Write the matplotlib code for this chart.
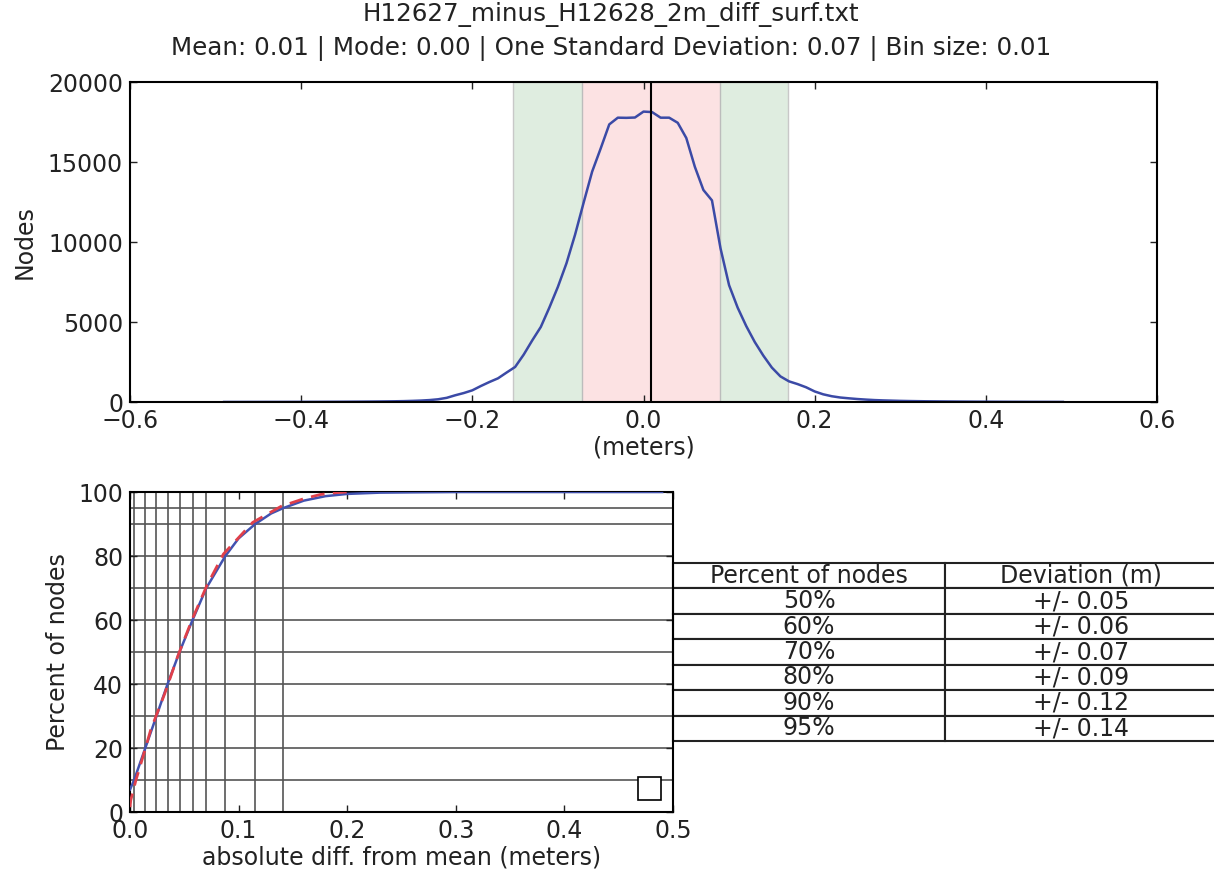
import numpy as np
import matplotlib
matplotlib.use('Agg')
import matplotlib.pyplot as plt

plt.rcParams['font.family'] = ['DejaVu Sans']
plt.rcParams['font.size'] = 17
plt.rcParams['text.color'] = '#222222'
plt.rcParams['axes.labelcolor'] = '#222222'
plt.rcParams['xtick.color'] = '#222222'
plt.rcParams['ytick.color'] = '#222222'
plt.rcParams['axes.linewidth'] = 1.5

file_name = 'H12627_minus_H12628_2m_diff_surf.txt'
mean_val = 0.0087
mode_val = 0.00
std_label = 0.07
bin_size = 0.01
# shaded bands (one and two std around the mean)
band1 = (-0.0715, 0.089)
band2 = (-0.152, 0.169)

# histogram counts per bin, bin centers -0.49 .. 0.49
bin_centers = np.round(np.arange(-0.49, 0.4901, bin_size), 2)
node_counts = [
    3, 4, 4, 5, 5, 6, 6, 7, 8, 9,
    10, 11, 13, 15, 17, 20, 23, 27, 32, 38,
    45, 55, 70, 90, 120, 170, 260, 420, 560, 730,
    1000, 1250, 1480, 1840, 2190, 2960, 3850, 4690, 5900, 7200,
    8670, 10450, 12450, 14400, 15850, 17350, 17770, 17760, 17780, 18150,
    18120, 17770, 17770, 17450, 16500, 14700, 13250, 12600, 9600, 7300,
    5900, 4750, 3750, 2900, 2150, 1600, 1290, 1120, 920, 660,
    480, 360, 280, 230, 185, 150, 120, 100, 85, 70,
    60, 52, 45, 40, 35, 31, 27, 24, 21, 19,
    17, 15, 13, 12, 10, 9, 8, 7, 6,
]

# cumulative percent vs absolute diff from mean
cum_x = [0.0, 0.0038, 0.0141, 0.0244, 0.0346, 0.0456, 0.0576, 0.0703, 0.0878,
         0.100, 0.1153, 0.130, 0.1413, 0.160, 0.180, 0.200, 0.230, 0.260, 0.300,
         0.400, 0.490]
cum_y = [7, 10, 20, 30, 40, 50, 60, 70, 80, 85.5, 90, 93.3, 95, 97.3, 98.7,
         99.4, 99.8, 99.9, 100, 100, 100]
fit_x = [0.0, 0.0007, 0.0055, 0.0117, 0.019, 0.032, 0.044, 0.057, 0.0707,
         0.086, 0.113, 0.139, 0.160, 0.175, 0.190, 0.200]
fit_y = [1.5, 3.7, 10, 17, 25.6, 37, 48.7, 60, 70.7, 80.6, 90.5, 95.5, 97.9,
         99.2, 99.8, 100]

# percent thresholds and deviation where they are reached
pct_levels = [10, 20, 30, 40, 50, 60, 70, 80, 90, 95]
pct_devs = [0.0038, 0.0141, 0.0244, 0.0346, 0.0456, 0.0576, 0.0703, 0.0878,
            0.1153, 0.1413]
table_levels = [50, 60, 70, 80, 90, 95]


def style_axes(ax):
    ax.tick_params(direction='in', top=True, right=True, length=5, width=1,
                   pad=5)


def graph_histograma(fig):
    ax = fig.add_axes([130 / 1214, 471 / 873, 1027 / 1214, 320 / 873])
    ax.axvspan(band2[0], band2[1], facecolor='#dfede0', edgecolor='#c8c8c8',
               lw=1, zorder=0)
    ax.axvspan(band1[0], band1[1], facecolor='#fce2e3', edgecolor='#bcbcbc',
               lw=1, zorder=0)
    ax.plot(bin_centers, node_counts, color='#3b4aa6', lw=1.8)
    ax.axvline(mean_val, color='k', lw=1.5)
    ax.set_xlim(-0.6, 0.6)
    ax.set_ylim(0, 20000)
    ax.set_xticks(np.round(np.arange(-0.6, 0.61, 0.2), 1))
    ax.set_yticks(range(0, 20001, 5000))
    ax.set_xlabel('(meters)', labelpad=2)
    ax.set_ylabel('Nodes', labelpad=8)
    style_axes(ax)
    return ax


def graph_acumulado(fig):
    ax = fig.add_axes([130 / 1214, 61 / 873, 543 / 1214, 320 / 873])
    for p in pct_levels:
        ax.axhline(p, color='#555555', lw=1.2, zorder=1)
    for d in pct_devs:
        ax.axvline(d, color='#555555', lw=1.2, zorder=1)
    ax.plot(cum_x, cum_y, color='#4252b0', lw=1.8, zorder=3)
    ax.plot(fit_x, fit_y, color='#e0404a', lw=2, ls='--', dashes=(5, 3),
            zorder=3)
    ax.set_xlim(0, 0.5)
    ax.set_ylim(0, 100)
    ax.set_xticks(np.round(np.arange(0, 0.51, 0.1), 1))
    ax.set_yticks(range(0, 101, 20))
    ax.set_xlabel('absolute diff. from mean (meters)', labelpad=2)
    ax.set_ylabel('Percent of nodes', labelpad=6)
    style_axes(ax)
    leg = ax.legend([], [], loc='lower right', borderpad=0.5,
                    borderaxespad=0.5, fancybox=False, framealpha=1)
    leg.get_frame().set_edgecolor('k')
    leg.get_frame().set_linewidth(1.2)

    filas = [[f'{p}%', f'+/- {d:.2f}'] for p, d in zip(pct_levels, pct_devs)
             if p in table_levels]
    tabla = ax.table(cellText=filas,
                     colLabels=['Percent of nodes', 'Deviation (m)'],
                     cellLoc='center', bbox=[1.0, 0.222, 1.002, 0.556])
    tabla.auto_set_font_size(False)
    tabla.set_fontsize(17)
    for cell in tabla.get_celld().values():
        cell.set_linewidth(1.5)
        cell.set_edgecolor('#222222')
        cell.get_text().set_color('#222222')
    return ax


def generar_graficos():
    fig = plt.figure(figsize=(12.14, 8.73), dpi=100)
    graph_histograma(fig)
    graph_acumulado(fig)
    fig.text(611 / 1214, 1 - 2 / 873,
             f'{file_name}\nMean: {mean_val:.2f} | Mode: {mode_val:.2f} | '
             f'One Standard Deviation: {std_label:.2f} | Bin size: {bin_size:.2f}',
             ha='center', va='top', fontsize=17.7, linespacing=1.45)
    fig.savefig('out.png', dpi=100)
    plt.close(fig)


if __name__ == '__main__':
    generar_graficos()
